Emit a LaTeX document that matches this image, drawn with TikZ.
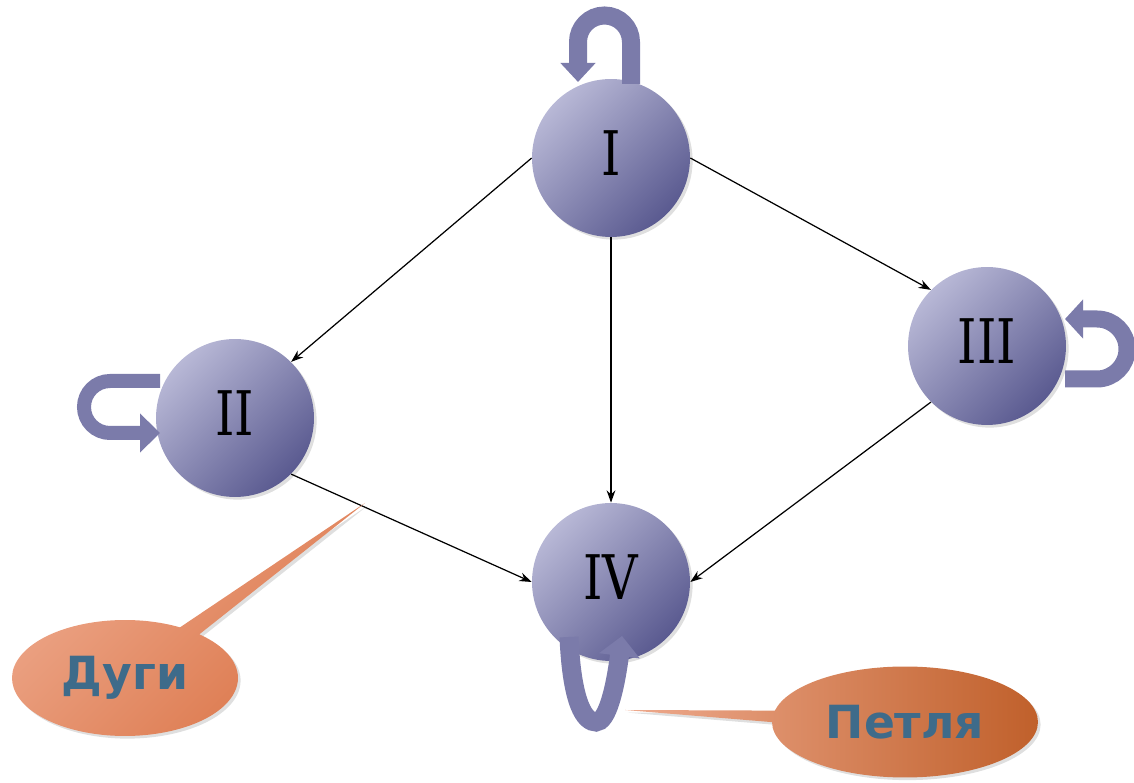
\documentclass[tikz,border=0pt]{standalone}
\usepackage{fontspec}
\newfontfamily\calloutfont{DejaVu Sans}
\newfontfamily\numfont[FakeStretch=0.8]{DejaVu Serif}
\usetikzlibrary{arrows.meta,shapes.callouts,shadows}
\definecolor{vlight}{HTML}{B8B8D6}
\definecolor{vdark}{HTML}{5A5A90}
\definecolor{ribbon}{HTML}{7B7BAA}
\definecolor{clight}{HTML}{EEAA8E}
\definecolor{cdark}{HTML}{DB7548}
\definecolor{cdeep}{HTML}{C0602B}
\definecolor{ctext}{HTML}{3E6B8A}
\tikzset{
  vertex/.style={circle,minimum size=3.16cm,inner sep=0pt,text depth=0.2cm,
    top color=vlight,bottom color=vdark,shading angle=45,
    font=\numfont\fontsize{35}{40}\selectfont,
    drop shadow={opacity=0.25,shadow xshift=1.5pt,shadow yshift=-1.5pt}},
  arc/.style={-{Stealth[length=7pt,width=5pt]},line width=0.7pt},
  loopband/.style={draw=ribbon,line width=#1},
  notebox/.style={ellipse callout,inner sep=0pt,callout pointer arc=12,
    font=\calloutfont\bfseries\fontsize{26}{30}\selectfont,text=ctext,
    drop shadow={opacity=0.25,shadow xshift=1.5pt,shadow yshift=-1.5pt}}
}
\begin{document}
\begin{tikzpicture}[x=0.02cm,y=-0.02cm]
\useasboundingbox (0,0) rectangle (1134,783);
% vertices
\node[vertex] (I) at (611,158) {I};
\node[vertex] (II) at (235,418) {II};
\node[vertex] (III) at (987,346) {III};
\node[vertex] (IV) at (611,582) {IV};
% arcs
\draw[arc] (I.180) -- (II.45);
\draw[arc] (I.0) -- (III.135);
\draw[arc] (I.south) -- (IV.north);
\draw[arc] (II.-45) -- (IV.180);
\draw[arc] (III.225) -- (IV.0);
% loops
\draw[loopband=0.36cm,-{Triangle[width=0.68cm,length=0.38cm]}]
  (631,84) -- (631,42) arc[start angle=0,end angle=-180,radius=26.5] -- (578,82);
\draw[loopband=0.28cm,-{Triangle[width=0.76cm,length=0.4cm]}]
  (160,381) -- (110,381) arc[start angle=-90,end angle=-270,radius=26] -- (160,433);
\draw[loopband=0.34cm,-{Triangle[width=0.76cm,length=0.36cm]}]
  (1065,379) -- (1097,379) arc[start angle=90,end angle=-90,radius=30] -- (1065,319);
\draw[loopband=0.38cm,-{Triangle[width=0.8cm,length=0.4cm]}]
  (569,637) .. controls (572,705) and (585,722) .. (596,722)
  .. controls (607,722) and (615,690) .. (622,636);
% notes
\coordinate (arcpt) at (365,503);
\coordinate (looppt) at (625,710);
\node[notebox,callout absolute pointer=(arcpt),minimum width=4.52cm,minimum height=2.32cm,
  top color=clight,bottom color=cdark,shading angle=45] (arcnote) at (125,678) {Дуги};
\node[notebox,callout absolute pointer=(looppt),minimum width=5.32cm,minimum height=2.22cm,
  left color=clight,right color=cdeep] (loopnote) at (905,722) {Петля};
\end{tikzpicture}
\end{document}
